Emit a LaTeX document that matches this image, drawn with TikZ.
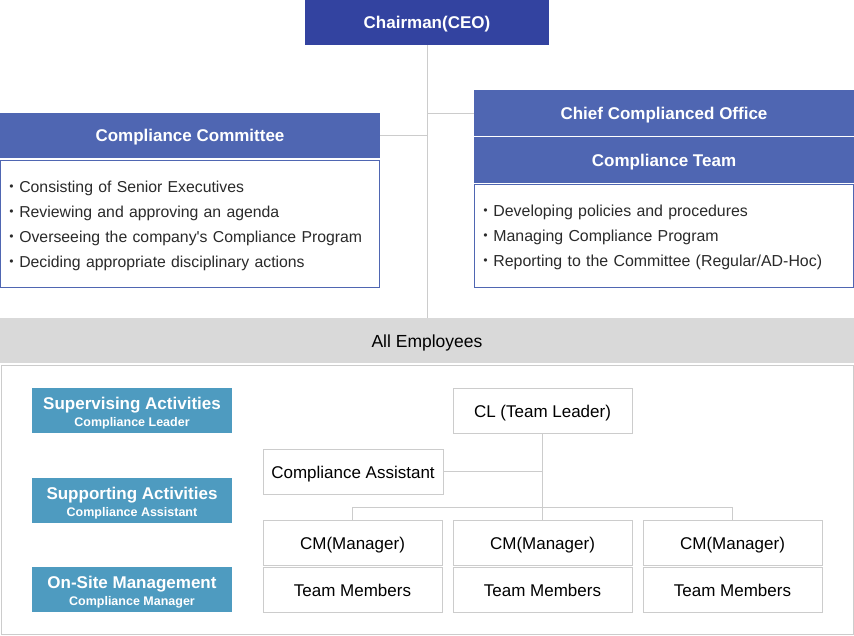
\documentclass[tikz,border=0pt]{standalone}
\usepackage{fontspec}
\setmainfont{Liberation Sans}
\newfontfamily\cjkdot{Noto Sans CJK JP}
\definecolor{ceoblue}{HTML}{3343A0}
\definecolor{midblue}{HTML}{4F66B2}
\definecolor{tealblue}{HTML}{4E9BC0}
\definecolor{barg}{HTML}{D9D9D9}
\definecolor{lineg}{HTML}{CCCCCC}
\definecolor{txt}{HTML}{2A2A2A}
\begin{document}
\begin{tikzpicture}[x=1pt,y=-1pt,
  hdr/.style={fill=#1,text=white,inner sep=0pt,text height=12.4pt,text depth=0pt,font=\fontsize{17}{20}\selectfont\bfseries},
  hdr/.default=midblue,
  listbox/.style={draw=midblue,line width=1pt,fill=white,inner sep=0pt},
  listtext/.style={text=txt,inner sep=0pt,text width=374pt,align=left},
  graybox/.style={draw=lineg,line width=1pt,fill=white,inner sep=0pt,text=black,text height=13pt,text depth=0pt,font=\fontsize{17}{20}\selectfont},
  rolebox/.style={fill=tealblue,inner sep=0pt,minimum width=200pt,minimum height=45pt},
  roletext/.style={text=white,inner sep=0pt,align=center,font=\fontsize{12.5}{17}\selectfont\bfseries},
  conn/.style={draw=lineg,line width=1pt}]
\useasboundingbox (0,0) rectangle (854,635);
\newcommand\bul{\hspace*{0.5pt}{\cjkdot ・}}
% lower frame and bar
\node[draw=lineg,line width=1pt,minimum width=852pt,minimum height=269pt,inner sep=0pt] (frame) at (427,499.5) {};
\node[fill=barg,minimum width=854pt,minimum height=45pt,inner sep=0pt,text height=13pt,text depth=0pt,font=\fontsize{17.5}{20}\selectfont,text=black] (all) at (427,340.5) {All Employees};
% top
\node[hdr=ceoblue,minimum width=244pt,minimum height=45pt] (ceo) at (427,22.5) {Chairman(CEO)};
\node[hdr,minimum width=380pt,minimum height=45pt] (cc) at (190,135.5) {Compliance Committee};
\node[hdr,minimum width=380pt,minimum height=46pt] (cco) at (664,113) {Chief Complianced Office};
\node[hdr,minimum width=380pt,minimum height=46pt] (ct) at (664,160) {Compliance Team};
\node[listbox,minimum width=379pt,minimum height=127pt] (ccl) at (190,224) {};
\node[listtext,font=\fontsize{15.8}{25}\selectfont] (cclt) at ([yshift=-2pt]ccl.center) {%
\bul Consisting of Senior Executives\\
\bul Reviewing and approving an agenda\\
\bul Overseeing the company\textquotesingle s Compliance Program\\
\bul Deciding appropriate disciplinary actions};
\node[listbox,minimum width=379pt,minimum height=103pt] (ctl) at (664,235.5) {};
\node[listtext,font=\fontsize{15.9}{25}\selectfont] (ctlt) at ([yshift=-2pt]ctl.center) {%
\bul Developing policies and procedures\\
\bul Managing Compliance Program\\
\bul Reporting to the Committee (Regular/AD-Hoc)};
% connectors top
\draw[conn] (ceo.south) -- (ceo.south |- all.north);
\draw[conn] (cc.east) -- (cc.east -| ceo.south);
\draw[conn] (cco.west) -- (cco.west -| ceo.south);
% role boxes
\node[rolebox] (r1) at (132,410.5) {};
\node[roletext] (r1t) at ([yshift=-3pt]r1.center) {{\fontsize{17}{17}\selectfont Supervising Activities}\\Compliance Leader};
\node[rolebox] (r2) at (132,500.5) {};
\node[roletext] (r2t) at ([yshift=-3pt]r2.center) {{\fontsize{17}{17}\selectfont Supporting Activities}\\Compliance Assistant};
\node[rolebox] (r3) at (132,589.5) {};
\node[roletext] (r3t) at ([yshift=-3pt]r3.center) {{\fontsize{17}{17}\selectfont On-Site Management}\\Compliance Manager};
% org boxes
\node[graybox,minimum width=179pt,minimum height=45pt] (cl) at (542.5,410.5) {CL (Team Leader)};
\node[graybox,minimum width=180pt,minimum height=45pt] (ca) at (353,471.5) {Compliance Assistant};
\node[graybox,minimum width=179pt,minimum height=45pt] (cm1) at (352.5,542.5) {CM(Manager)};
\node[graybox,minimum width=179pt,minimum height=45pt] (cm2) at (542.5,542.5) {CM(Manager)};
\node[graybox,minimum width=179pt,minimum height=45pt] (cm3) at (732.5,542.5) {CM(Manager)};
\node[graybox,minimum width=179pt,minimum height=45pt] (tm1) at (352.5,589.5) {Team Members};
\node[graybox,minimum width=179pt,minimum height=45pt] (tm2) at (542.5,589.5) {Team Members};
\node[graybox,minimum width=179pt,minimum height=45pt] (tm3) at (732.5,589.5) {Team Members};
% connectors bottom
\draw[conn] (cl.south) -- (cm2.north);
\draw[conn] (ca.east) -- (ca.east -| cl.south);
\draw[conn] (cm1.north) -- ++(0,-12) -| (cm3.north);
\end{tikzpicture}
\end{document}
